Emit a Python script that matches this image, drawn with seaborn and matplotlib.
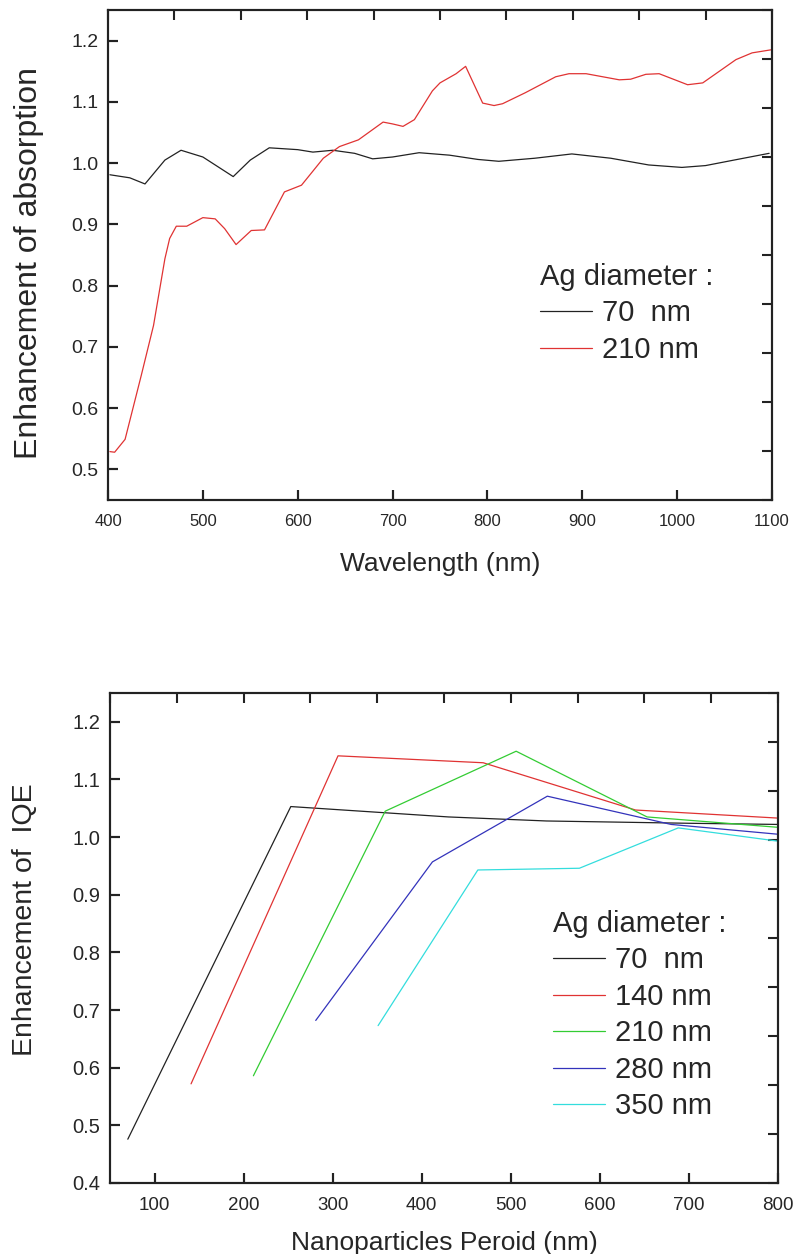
import numpy as np
import pandas as pd
import matplotlib
matplotlib.use("Agg")
import matplotlib.pyplot as plt
import seaborn as sns

# absorption enhancement vs wavelength
wl_70 = [402, 423, 439, 460, 477, 500, 532, 550, 570, 600, 616, 637, 660, 679, 700,
         728, 760, 790, 812, 850, 889, 930, 970, 1005, 1030, 1060, 1097]
abs_70 = [0.981, 0.976, 0.966, 1.005, 1.021, 1.010, 0.978, 1.005, 1.025, 1.022, 1.018, 1.021,
          1.016, 1.007, 1.010, 1.017, 1.013, 1.006, 1.003, 1.008, 1.015, 1.008, 0.997, 0.993,
          0.996, 1.005, 1.016]

wl_210 = [402, 407, 418, 435, 448, 460, 465, 472, 483, 500, 513, 523, 535, 551, 565, 586,
          604, 615, 627, 644, 664, 690, 700, 711, 723, 742, 750, 767, 777, 795, 807, 816,
          840, 872, 886, 904, 939, 951, 967, 981, 1011, 1027, 1062, 1079, 1099]
abs_210 = [0.529, 0.528, 0.549, 0.653, 0.735, 0.844, 0.877, 0.897, 0.897, 0.911, 0.909, 0.893,
           0.867, 0.890, 0.891, 0.953, 0.964, 0.985, 1.008, 1.027, 1.038, 1.067, 1.064, 1.060,
           1.071, 1.118, 1.131, 1.146, 1.158, 1.098, 1.094, 1.097, 1.115, 1.141, 1.146, 1.146,
           1.136, 1.137, 1.145, 1.146, 1.128, 1.131, 1.169, 1.180, 1.185]

# IQE enhancement vs nanoparticle period
period_70 = [70, 253, 430, 540, 700, 800]
iqe_70 = [0.476, 1.053, 1.035, 1.028, 1.024, 1.022]
period_140 = [141, 306, 469, 640, 800]
iqe_140 = [0.572, 1.141, 1.129, 1.047, 1.033]
period_210 = [211, 359, 506, 653, 800]
iqe_210 = [0.586, 1.045, 1.149, 1.035, 1.017]
period_280 = [281, 412, 541, 680, 800]
iqe_280 = [0.682, 0.957, 1.071, 1.022, 1.005]
period_350 = [351, 463, 577, 688, 800]
iqe_350 = [0.673, 0.943, 0.946, 1.016, 0.993]

abs_xticks = list(range(400, 1101, 100))
abs_yticks = [0.5, 0.6, 0.7, 0.8, 0.9, 1.0, 1.1, 1.2]
iqe_xticks = list(range(100, 801, 100))
iqe_yticks = [0.4, 0.5, 0.6, 0.7, 0.8, 0.9, 1.0, 1.1, 1.2]

sns.set_style("ticks")
plt.rcParams['font.family'] = ['Liberation Sans', 'DejaVu Sans']

fig = plt.figure(figsize=(7.95, 12.54), dpi=100)
ax1 = fig.add_axes([108 / 795, 1 - 500 / 1254, 664 / 795, 490 / 1254])
ax2 = fig.add_axes([110 / 795, 1 - 1183 / 1254, 668 / 795, 490 / 1254])

lw = 0.9
sns.lineplot(x=wl_70, y=abs_70, ax=ax1, color="#222222", lw=lw, label="70  nm")
sns.lineplot(x=wl_210, y=abs_210, ax=ax1, color="#e03333", lw=lw, label="210 nm")

iqe_series = [
    (period_70, iqe_70, "#222222", "70  nm"),
    (period_140, iqe_140, "#e03333", "140 nm"),
    (period_210, iqe_210, "#33cc33", "210 nm"),
    (period_280, iqe_280, "#3333bb", "280 nm"),
    (period_350, iqe_350, "#33dddd", "350 nm"),
]
for xs, ys, c, lab in iqe_series:
    sns.lineplot(x=xs, y=ys, ax=ax2, color=c, lw=lw, label=lab)

ax1.set_xlim(400, 1100)
ax1.set_ylim(0.45, 1.25)
ax1.set_xticks(abs_xticks)
ax1.set_yticks(abs_yticks)
ax1.set_xlabel("Wavelength (nm)", fontsize=19, labelpad=17)
ax1.set_ylabel("Enhancement of absorption", fontsize=23)
ax1.yaxis.set_label_coords(-0.096, 0.484)

ax2.set_xlim(50, 800)
ax2.set_ylim(0.4, 1.25)
ax2.set_xticks(iqe_xticks)
ax2.set_yticks(iqe_yticks)
ax2.set_xlabel("Nanoparticles Peroid (nm)", fontsize=19, labelpad=12)
ax2.set_ylabel("Enhancement of  IQE", fontsize=20.5)
ax2.yaxis.set_label_coords(-0.108, 0.537)


def ident(v):
    return v


tick_kw = dict(direction="in", length=7, width=1.5, color="#222222")
for ax, xt, yt, xsize, ysize in ((ax1, abs_xticks, abs_yticks, 12, 14),
                                 (ax2, iqe_xticks, iqe_yticks, 13.5, 14.5)):
    ax.set_axisbelow(False)
    ax.yaxis.set_major_formatter(matplotlib.ticker.FormatStrFormatter('%.1f'))
    for s in ax.spines.values():
        s.set_linewidth(1.5)
        s.set_visible(True)
        s.set_color("#222222")
    ax.tick_params(axis="x", which="major", bottom=True, top=False,
                   labelsize=xsize, pad=10, **tick_kw)
    ax.tick_params(axis="y", which="major", left=True, right=False,
                   labelsize=ysize, pad=7, **tick_kw)

    # inward tick marks on bottom / left at the labelled values
    bx = ax.secondary_xaxis("bottom", functions=(ident, ident))
    bx.set_xticks(xt)
    bx.tick_params(labelbottom=False, **tick_kw)
    ly = ax.secondary_yaxis("left", functions=(ident, ident))
    ly.set_yticks(yt)
    ly.tick_params(labelleft=False, **tick_kw)

    # Origin-style top/right axes with 10 equal divisions, no labels
    x0, x1 = ax.get_xlim()
    y0, y1 = ax.get_ylim()
    dx, dy = (x1 - x0) / 10, (y1 - y0) / 10
    sx = ax.secondary_xaxis("top", functions=(lambda v, a=x0, d=dx: (v - a) / d,
                                              lambda t, a=x0, d=dx: a + t * d))
    sx.set_xticks(range(11))
    sx.tick_params(labeltop=False, **tick_kw)
    sy = ax.secondary_yaxis("right", functions=(lambda v, a=y0, d=dy: (v - a) / d,
                                                lambda t, a=y0, d=dy: a + t * d))
    sy.set_yticks(range(11))
    sy.tick_params(labelright=False, **tick_kw)
    for sec in (bx, ly, sx, sy):
        for s in sec.spines.values():
            s.set_linewidth(1.5)
            s.set_color("#222222")

leg_kw = dict(frameon=False, fontsize=21, title_fontsize=21, alignment="left",
              handlelength=1.78, handletextpad=0.34, labelspacing=0.29,
              loc="upper left", borderpad=0, borderaxespad=0,
              bbox_transform=fig.transFigure)
ax1.legend(title="Ag diameter :", bbox_to_anchor=(540 / 795, 1 - 263 / 1254), **leg_kw)
ax2.legend(title="Ag diameter :", bbox_to_anchor=(553 / 795, 1 - 910 / 1254), **leg_kw)

fig.savefig("out.png", dpi=100)
